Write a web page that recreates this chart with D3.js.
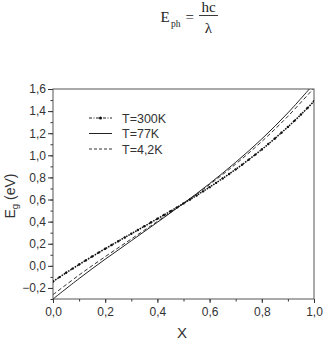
<!DOCTYPE html>
<html>
<head>
<meta charset="UTF-8">
<title>Eg vs x</title>
<script src="https://cdnjs.cloudflare.com/ajax/libs/d3/7.8.5/d3.min.js"></script>
<style>
  body { margin: 0; background: #fff; }
  svg { display: block; }
  .tick text { font-family: Arial, "Liberation Sans", sans-serif; font-size: 12px; fill: #333; }
</style>
</head>
<body>
<div id="chart"></div>
<script>
// x composition for T=300K (dense, with markers)
var x300 = [0, 0.025, 0.05, 0.075, 0.1, 0.125, 0.15, 0.175, 0.2, 0.225, 0.25, 0.275, 0.3, 0.325, 0.35, 0.375, 0.4, 0.425, 0.45, 0.475,
            0.5, 0.525, 0.55, 0.575, 0.6, 0.625, 0.65, 0.675, 0.7, 0.725, 0.75, 0.775, 0.8, 0.825, 0.85, 0.875, 0.9, 0.925, 0.95, 0.975, 1.0];
var eg300 = [-0.142, -0.102, -0.063, -0.025, 0.012, 0.049, 0.084, 0.120, 0.155, 0.189, 0.223, 0.257, 0.291, 0.324, 0.358, 0.392, 0.426, 0.460, 0.494, 0.529,
             0.565, 0.600, 0.637, 0.674, 0.712, 0.751, 0.791, 0.831, 0.873, 0.916, 0.961, 1.006, 1.053, 1.102, 1.152, 1.204, 1.257, 1.312, 1.369, 1.428, 1.490];

// x composition for T=77K and T=4,2K
var xs = [0, 0.1, 0.2, 0.3, 0.4, 0.5, 0.6, 0.7, 0.8, 0.9, 1.0];
var eg77 = [-0.300, -0.115, 0.060, 0.227, 0.394, 0.565, 0.744, 0.937, 1.148, 1.384, 1.648];
var eg4 = [-0.261, -0.083, 0.083, 0.243, 0.402, 0.565, 0.736, 0.921, 1.125, 1.353, 1.609];

var xTicks = [0, 0.2, 0.4, 0.6, 0.8, 1.0];
var yTicks = [-0.2, 0, 0.2, 0.4, 0.6, 0.8, 1.0, 1.2, 1.4, 1.6];
var legendLabels = ["T=300K", "T=77K", "T=4,2K"];

var W = 331, H = 346;
var pLeft = 53, pRight = 314, pTop = 89, pBottom = 299;
var ink = "#333";

var svg = d3.select("#chart").append("svg")
    .attr("width", W)
    .attr("height", H);

var x = d3.scaleLinear().domain([0, 1]).range([pLeft, pRight]);
var y = d3.scaleLinear().domain([-0.3, 1.6]).range([pBottom, pTop]);

var comma = function(d) { return d3.format(".1f")(d).replace(".", ","); };

// formula at the top
var title = svg.append("g")
    .attr("font-family", "'Liberation Serif', 'Times New Roman', serif")
    .attr("fill", "#222");
title.append("text").attr("x", 160.5).attr("y", 22).attr("font-size", 15).text("E");
title.append("text").attr("x", 171).attr("y", 26.5).attr("font-size", 9.5).text("ph");
title.append("text").attr("x", 185.5).attr("y", 21.5).attr("font-size", 15).text("=");
title.append("line").attr("x1", 199).attr("x2", 218).attr("y1", 15.5).attr("y2", 15.5)
    .attr("stroke", "#222").attr("stroke-width", 0.9);
title.append("text").attr("x", 208.5).attr("y", 12).attr("font-size", 15).attr("text-anchor", "middle").text("hc");
title.append("text").attr("x", 208.5).attr("y", 32.5).attr("font-size", 15).attr("text-anchor", "middle").text("λ");

// minor ticks
svg.append("g")
    .attr("transform", "translate(0," + pBottom + ")")
    .call(d3.axisBottom(x).tickValues(d3.range(0, 1.01, 0.1)).tickSize(2.5).tickFormat(""))
    .call(g => g.select(".domain").remove())
    .call(g => g.selectAll("line").attr("stroke", ink));
svg.append("g")
    .attr("transform", "translate(" + pLeft + ",0)")
    .call(d3.axisLeft(y).tickValues(d3.range(-0.3, 1.61, 0.1)).tickSize(2.5).tickFormat(""))
    .call(g => g.select(".domain").remove())
    .call(g => g.selectAll("line").attr("stroke", ink));

// major ticks
svg.append("g")
    .attr("transform", "translate(0," + pBottom + ")")
    .call(d3.axisBottom(x).tickValues(xTicks).tickSize(4).tickPadding(4).tickFormat(comma))
    .call(g => g.select(".domain").remove())
    .call(g => g.selectAll("line").attr("stroke", ink));
svg.append("g")
    .attr("transform", "translate(" + pLeft + ",0)")
    .call(d3.axisLeft(y).tickValues(yTicks).tickSize(5).tickPadding(2).tickFormat(comma))
    .call(g => g.select(".domain").remove())
    .call(g => g.selectAll("line").attr("stroke", ink));

// frame
svg.append("rect")
    .attr("x", pLeft).attr("y", pTop)
    .attr("width", pRight - pLeft).attr("height", pBottom - pTop)
    .attr("fill", "none").attr("stroke", "#555").attr("stroke-width", 1);

// clip
svg.append("clipPath").attr("id", "plot")
    .append("rect").attr("x", pLeft).attr("y", pTop)
    .attr("width", pRight - pLeft).attr("height", pBottom - pTop);

var plot = svg.append("g").attr("clip-path", "url(#plot)");

var line = d3.line()
    .x(d => x(d[0]))
    .y(d => y(d[1]))
    .curve(d3.curveCatmullRom);

var d300 = x300.map((v, i) => [v, eg300[i]]);
var d77 = xs.map((v, i) => [v, eg77[i]]);
var d4 = xs.map((v, i) => [v, eg4[i]]);

plot.append("path").datum(d77)
    .attr("d", line)
    .attr("fill", "none").attr("stroke", "#222").attr("stroke-width", 1);

plot.append("path").datum(d4)
    .attr("d", line)
    .attr("fill", "none").attr("stroke", "#333").attr("stroke-width", 1)
    .attr("stroke-dasharray", "4,2.5");

plot.append("path").datum(d300)
    .attr("d", line)
    .attr("fill", "none").attr("stroke", "#111").attr("stroke-width", 1.5)
    .attr("stroke-dasharray", "1.6,1");

plot.selectAll("circle.m300")
    .data(d300)
    .enter()
    .append("circle")
    .attr("class", "m300")
    .attr("cx", d => x(d[0]))
    .attr("cy", d => y(d[1]))
    .attr("r", 1.2)
    .attr("fill", "#111");

// legend
var legY = [118, 133.5, 149];
var leg = svg.append("g");
leg.append("line").attr("x1", 89).attr("x2", 112).attr("y1", legY[0]).attr("y2", legY[0])
    .attr("stroke", "#222").attr("stroke-width", 1).attr("stroke-dasharray", "3,1.5,1,1.5");
leg.append("circle").attr("cx", 100.5).attr("cy", legY[0]).attr("r", 1.5).attr("fill", "#111");
leg.append("line").attr("x1", 89).attr("x2", 112).attr("y1", legY[1]).attr("y2", legY[1])
    .attr("stroke", "#222").attr("stroke-width", 1);
leg.append("line").attr("x1", 89).attr("x2", 112).attr("y1", legY[2]).attr("y2", legY[2])
    .attr("stroke", "#333").attr("stroke-width", 1).attr("stroke-dasharray", "3,2");
leg.selectAll("text")
    .data(legendLabels)
    .enter()
    .append("text")
    .attr("x", 122)
    .attr("y", (d, i) => legY[i])
    .attr("dy", "0.36em")
    .attr("font-family", "Arial, 'Liberation Sans', sans-serif")
    .attr("font-size", 12.5)
    .attr("fill", "#333")
    .text(d => d);

// axis titles
var yl = svg.append("text")
    .attr("transform", "translate(15,196) rotate(-90)")
    .attr("text-anchor", "middle")
    .attr("font-family", "Arial, 'Liberation Sans', sans-serif")
    .attr("font-size", 14)
    .attr("fill", "#333");
yl.append("tspan").text("E");
yl.append("tspan").attr("font-size", 9.5).attr("dy", 3).text("g");
yl.append("tspan").attr("dy", -3).text(" (eV)");

svg.append("text")
    .attr("x", 182).attr("y", 338)
    .attr("text-anchor", "middle")
    .attr("font-family", "Arial, 'Liberation Sans', sans-serif")
    .attr("font-size", 15)
    .attr("fill", "#333")
    .text("X");
</script>
</body>
</html>
